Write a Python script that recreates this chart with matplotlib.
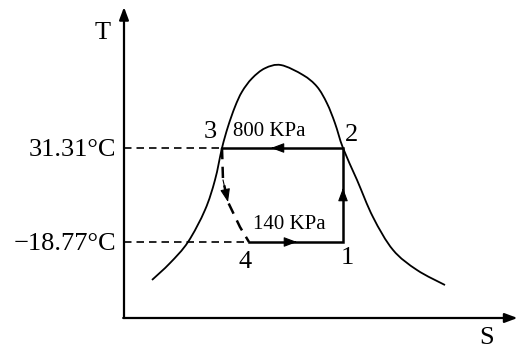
import numpy as np
import matplotlib
matplotlib.use("Agg")
import matplotlib.pyplot as plt
from matplotlib.path import Path
from matplotlib.patches import PathPatch

plt.rcParams['font.family'] = ['Liberation Serif', 'DejaVu Serif']

# ---- data (entropy in arbitrary units, temperature in degC) ----
dome_s = [0.28, 0.46, 0.64, 0.81, 0.91, 0.98, 1.04, 1.11, 1.18, 1.28, 1.41,
          1.57, 1.79, 1.93, 2.03, 2.11, 2.19, 2.33, 2.49, 2.69, 2.93, 3.21]
dome_t = [-39.0, -30.0, -18.77, -1.7, 14.3, 31.31, 42.7, 53.3, 61.3, 68.4, 73.8,
          75.5, 70.2, 64.0, 55.1, 44.5, 31.31, 14.3, -5.5, -23.0, -33.7, -41.7]

state_labels = ["1", "2", "3", "4"]
state_s = [2.19, 2.19, 0.98, 1.25]
state_t = [-18.77, 31.31, 31.31, -18.77]

throttle_s = [0.98, 0.99, 1.04, 1.16, 1.25]
throttle_t = [31.31, 14.3, 2.5, -10.8, -18.77]

temp_labels = ["31.31\u00b0C", "\u221218.77\u00b0C"]
temp_values = [31.31, -18.77]
pressure_labels = ["800 KPa", "140 KPa"]
axis_labels = ["T", "S"]

# ---- figure ----
fig = plt.figure(figsize=(5.18, 3.5), dpi=100)
ax = fig.add_axes([0, 0, 1, 1])
ax.set_xlim(-1.24, 3.94)
ax.set_ylim(-76.31, 110.16)
ax.axis('off')

K = 'black'
T_AXIS = -59.26

# axes with arrows
arr_ax = dict(arrowstyle='-|>,head_length=0.75,head_width=0.28', lw=1.6,
              color=K, shrinkA=0, shrinkB=0)
ax.annotate('', xy=(0, 106.4), xytext=(0, T_AXIS), arrowprops=arr_ax)
ax.annotate('', xy=(3.935, T_AXIS), xytext=(-0.008, T_AXIS), arrowprops=arr_ax)
ax.text(-0.21, 92.6, axis_labels[0], fontsize=19, ha='center', va='center')
ax.text(3.63, -69.9, axis_labels[1], fontsize=19, ha='center', va='center')

# saturation dome, smooth Catmull-Rom -> Bezier path
P = np.column_stack([dome_s, dome_t])
verts = [tuple(P[0])]
codes = [Path.MOVETO]
n = len(P)
for i in range(n - 1):
    p0 = P[i - 1] if i > 0 else P[i]
    p1 = P[i]
    p2 = P[i + 1]
    p3 = P[i + 2] if i + 2 < n else P[i + 1]
    c1 = p1 + (p2 - p0) / 6.0
    c2 = p2 - (p3 - p1) / 6.0
    verts += [tuple(c1), tuple(c2), tuple(p2)]
    codes += [Path.CURVE4] * 3
ax.add_patch(PathPatch(Path(verts, codes), fill=False, lw=1.3, color=K))

# dashed reference lines
for tv, s_end in [(state_t[2], state_s[2]), (state_t[3], state_s[3])]:
    ax.plot([0, s_end], [tv, tv], ls=(0, (4.5, 3)), lw=1.2, color=K)

# cycle solid lines 4 -> 1 -> 2 -> 3
ax.plot([state_s[3], state_s[0], state_s[1], state_s[2]],
        [state_t[3], state_t[0], state_t[1], state_t[2]],
        lw=1.8, color=K, solid_joinstyle='miter')
# throttling (dashed) 3 -> 4
ax.plot(throttle_s, throttle_t, ls=(0, (4.5, 3)), lw=1.8, color=K)

# direction arrowheads
arr = dict(arrowstyle='-|>,head_length=0.8,head_width=0.3', lw=0.8,
           color=K, shrinkA=0, shrinkB=0)

def head(a, b, frac):
    sa, ta = state_s[a], state_t[a]
    sb, tb = state_s[b], state_t[b]
    tip = (sa + (sb - sa) * frac, ta + (tb - ta) * frac)
    back = (sa + (sb - sa) * (frac - 0.02), ta + (tb - ta) * (frac - 0.02))
    ax.annotate('', xy=tip, xytext=back, arrowprops=arr)

head(1, 2, 0.595)   # 2 -> 3
head(3, 0, 0.51)    # 4 -> 1
head(0, 1, 0.574)   # 1 -> 2
ax.annotate('', xy=(throttle_s[2], throttle_t[2]),
            xytext=(throttle_s[1], throttle_t[1]), arrowprops=arr)

# state labels
offsets = {"1": (4, -16), "2": (9, 13), "3": (-12, 16), "4": (-4, -20)}
for lab, s, t in zip(state_labels, state_s, state_t):
    ax.annotate(lab, xy=(s, t), xytext=offsets[lab], textcoords='offset pixels',
                fontsize=19, ha='center', va='center')

# pressure labels
ax.annotate(pressure_labels[0], xy=(state_s[2], state_t[2]), xytext=(11, 16),
            textcoords='offset pixels', fontsize=15, ha='left', va='center')
ax.annotate(pressure_labels[1], xy=(state_s[3], state_t[3]), xytext=(4, 17),
            textcoords='offset pixels', fontsize=15, ha='left', va='center')

# temperature labels
for lab, tv in zip(temp_labels, temp_values):
    ax.annotate(lab, xy=(0, tv), xytext=(-8, 0), textcoords='offset pixels',
                fontsize=19, ha='right', va='center_baseline')

fig.savefig('out.png', dpi=100, facecolor='white')
